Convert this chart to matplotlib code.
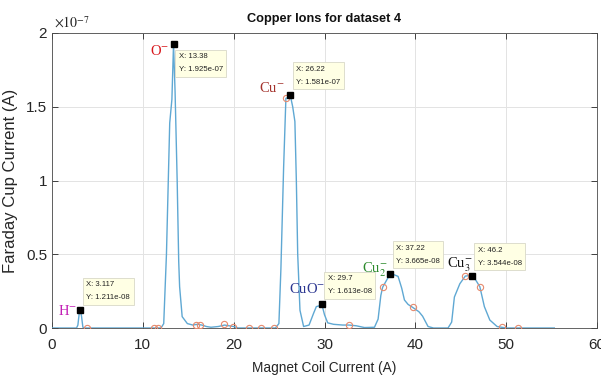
import matplotlib
matplotlib.use("Agg")
import matplotlib.pyplot as plt
from matplotlib.ticker import FuncFormatter

plt.rcParams["mathtext.fontset"] = "stix"

# Faraday cup trace (A) against magnet coil current (A)
coil = [0, 2.7, 2.85, 3.0, 3.117, 3.25, 3.4, 3.6, 10,
        12.0, 12.3, 12.6, 12.96, 13.2, 13.38, 13.55, 13.78, 13.95, 14.05, 14.33,
        14.9, 15.5, 16.0, 16.5, 17.0, 17.5, 18.3, 19.0, 19.5, 20.0, 20.5,
        24.6, 24.98, 25.2, 25.5, 25.75, 25.95, 26.22, 26.5, 26.74, 26.9, 27.05,
        27.3, 27.7, 28.3, 28.8, 29.1, 29.4, 29.7, 30.0, 30.35, 31.0, 32.0,
        32.7, 33.5, 34.4, 35.5, 35.9, 36.2, 36.4, 36.8, 37.22, 37.7, 38.1,
        38.5, 38.8, 39.2, 39.7, 40.4, 40.8, 41.4, 42.0, 43.6, 44.0, 44.3,
        44.9, 45.5, 45.9, 46.2, 46.6, 46.9, 47.1, 47.6, 48.2, 49.0, 49.5,
        50.0, 55.3]
current = [0, 0, 0.02e-7, 0.10e-7, 1.211e-8, 0.08e-7, 0.005e-7, 0, 0,
           0, 0.03e-7, 0.5e-7, 1.39e-7, 1.55e-7, 1.925e-7, 1.6e-7, 1.0e-7, 0.45e-7, 0.28e-7, 0.077e-7,
           0.03e-7, 0.02e-7, 0.025e-7, 0.02e-7, 0.01e-7, 0.005e-7, 0.01e-7, 0.02e-7, 0.015e-7, 0.01e-7, 0,
           0, 0.03e-7, 0.4e-7, 1.09e-7, 1.557e-7, 1.56e-7, 1.581e-7, 1.5e-7, 1.40e-7, 1.0e-7, 0.5e-7,
           0.12e-7, 0.01e-7, 0.02e-7, 0.1e-7, 0.145e-7, 0.15e-7, 1.613e-8, 0.09e-7, 0.035e-7, 0.025e-7, 0.02e-7,
           0.02e-7, 0.015e-7, 0.003e-7, 0.005e-7, 0.06e-7, 0.22e-7, 0.276e-7, 0.32e-7, 3.665e-8, 0.36e-7, 0.35e-7,
           0.27e-7, 0.19e-7, 0.16e-7, 0.14e-7, 0.11e-7, 0.08e-7, 0.01e-7, 0, 0, 0.04e-7, 0.21e-7,
           0.30e-7, 0.352e-7, 0.355e-7, 3.544e-8, 0.33e-7, 0.30e-7, 0.28e-7, 0.145e-7, 0.054e-7, 0.01e-7, 0.005e-7,
           0, 0]

# sampled points shown as open circles
samp_x = [3.8, 11.2, 11.7, 15.9, 16.3, 18.9, 19.9, 21.7, 23.0, 24.4,
          25.75, 32.7, 36.4, 39.7, 45.5, 47.1, 49.5, 51.3]
samp_y = [0, 0, 0, 0.02e-7, 0.02e-7, 0.03e-7, 0.005e-7, 0, 0, 0,
          1.557e-7, 0.02e-7, 0.276e-7, 0.14e-7, 0.352e-7, 0.28e-7, 0.007e-7, 0]

# peaks with data tips
peak_x = [3.117, 13.38, 26.22, 29.7, 37.22, 46.2]
peak_y = [1.211e-8, 1.925e-7, 1.581e-7, 1.613e-8, 3.665e-8, 3.544e-8]
peak_tip = ["X: 3.117\nY: 1.211e-08", "X: 13.38\nY: 1.925e-07", "X: 26.22\nY: 1.581e-07",
            "X: 29.7\nY: 1.613e-08", "X: 37.22\nY: 3.665e-08", "X: 46.2\nY: 3.544e-08"]
ion_names = ["H$^{-}$", "O$^{-}$", "Cu$^{-}$", "CuO$^{-}$", "Cu$_{2}^{-}$", "Cu$_{3}^{-}$"]
ion_colors = ["#c21fb5", "#d8161b", "#a3312b", "#2a3590", "#2c8a2c", "#111111"]
# right edge / vertical centre of each ion name, relative to its peak (pixels)
ion_offsets = [(-3, -1), (-4, -7), (-5, 7), (3, 15), (-2, 4), (1, 11)]

sans = ["Liberation Sans", "DejaVu Sans"]
serif = ["Liberation Serif", "DejaVu Serif"]

fig = plt.figure(figsize=(6.01, 3.79), dpi=100)
ax = fig.add_axes([52 / 601, 1 - 328 / 379, 545 / 601, 295 / 379])

ax.plot(coil, current, color="#5fa8d3", lw=1.0, zorder=3)
ax.plot(samp_x, samp_y, "o", mfc="none", mec="#e58a6e", ms=4.5, mew=0.8, zorder=4)
ax.plot(peak_x, peak_y, "s", color="black", ms=5, zorder=5)

for i in range(len(peak_x)):
    if i == 1:
        off, va = (5, -9), "top"
    else:
        off, va = (6, 9), "bottom"
    ax.annotate(peak_tip[i], xy=(peak_x[i], peak_y[i]), xytext=off,
                textcoords="offset pixels", ha="left", va=va,
                fontsize=5.6, family=sans, color="#222222", linespacing=2.2, zorder=6,
                bbox=dict(boxstyle="square,pad=0.45", fc="#ffffe4", ec="#d8d8c8", lw=0.6))
    ax.annotate(ion_names[i], xy=(peak_x[i], peak_y[i]), xytext=ion_offsets[i],
                textcoords="offset pixels", ha="right", va="center",
                fontsize=10.5, family=serif, color=ion_colors[i], zorder=6)

ax.set_xlim(0, 60)
ax.set_ylim(0, 2e-7)
ax.set_xticks([0, 10, 20, 30, 40, 50, 60])
ax.set_yticks([0, 0.5e-7, 1e-7, 1.5e-7, 2e-7])
ax.yaxis.set_major_formatter(FuncFormatter(lambda v, p: f"{v * 1e7:g}"))
ax.text(0.003, 1.008, r"$\times 10^{-7}$", transform=ax.transAxes, ha="left", va="bottom",
        fontsize=10, color="#262626")

ax.grid(True, color="#e3e3e3", lw=0.7)
ax.set_axisbelow(True)
ax.tick_params(direction="in", length=4, width=0.6, top=True, right=True,
               colors="#262626", labelsize=11)
ax.tick_params(axis="x", pad=7)
for lab in ax.get_xticklabels() + ax.get_yticklabels():
    lab.set_family(sans)
for s in ax.spines.values():
    s.set_color("#4a4a4a")
    s.set_linewidth(0.6)

ax.set_title("Copper Ions for dataset 4", fontsize=9.2, fontweight="bold",
             family=sans, color="#111111", pad=8)
ax.set_xlabel("Magnet Coil Current (A)", fontsize=9.8, family=sans, color="#262626", labelpad=7)
ax.set_ylabel("Faraday Cup Current (A)", fontsize=12, family=sans,
              color="#262626", labelpad=6)

fig.savefig("out.png", dpi=100)
